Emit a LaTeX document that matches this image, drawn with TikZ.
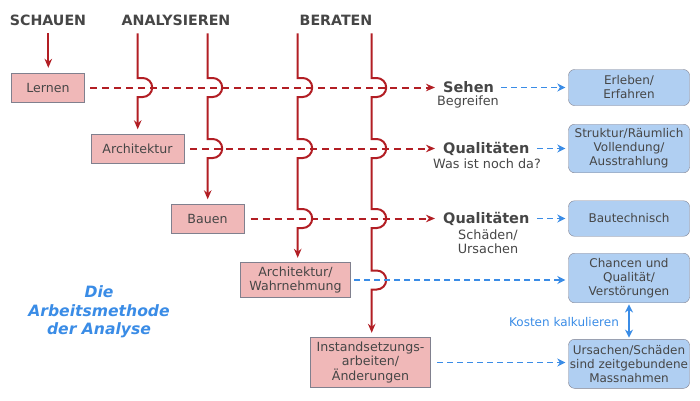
\documentclass[tikz,border=0pt]{standalone}
\usepackage{fontspec}
\setmainfont{DejaVu Sans}
\usepackage{xcolor}
\usepackage{tikz}
\usetikzlibrary{arrows.meta, positioning}

\definecolor{pfadrot}{RGB}{178,30,36}
\definecolor{hinweisblau}{RGB}{58,140,230}
\definecolor{rosa}{RGB}{240,184,184}
\definecolor{hellblau}{RGB}{176,207,242}
\definecolor{rahmen}{RGB}{128,128,142}
\definecolor{schrift}{RGB}{70,70,70}

\tikzset{
  kopf/.style={font=\fontsize{14.2}{16}\selectfont\bfseries, text=schrift},
  phasenbox/.style={draw=rahmen, fill=rosa, text=schrift, align=center, inner sep=1pt, font=\fontsize{12.6}{14.2}\selectfont},
  zielbox/.style={phasenbox, fill=hellblau, rounded corners=6pt, minimum width=121pt, font=\fontsize{12}{14}\selectfont},
  stichwort/.style={font=\fontsize{14.5}{16}\selectfont\bfseries, text=schrift, inner sep=1pt, anchor=west},
  notiz/.style={font=\fontsize{12.8}{14.5}\selectfont, text=schrift, inner sep=0pt, align=center},
  rotpfeil/.style={draw=pfadrot, line width=2pt, -{Stealth[length=9pt,width=7.5pt]}},
  rotstrich/.style={rotpfeil, dash pattern=on 7pt off 5pt},
  blaupfeil/.style={draw=hinweisblau, line width=1.7pt, {Stealth[length=8pt,width=8pt]}-{Stealth[length=8pt,width=8pt]}},
  blaustrich/.style={draw=hinweisblau, line width=1.7pt, dash pattern=on 6pt off 4pt, -{Stealth[length=8pt,width=8pt]}},
}

\begin{document}
\begin{tikzpicture}[x=1pt,y=-1pt]
\useasboundingbox (0,0) rectangle (700,400);

\node[kopf] (schauen) at (48,20) {SCHAUEN};
\node[kopf] (analysieren) at (176,20) {ANALYSIEREN};
\node[kopf] (beraten) at (336,20) {BERATEN};

\node[phasenbox, minimum width=73pt, minimum height=29pt] (lernen) at (48,87.5) {Lernen};
\node[phasenbox, minimum width=93pt, minimum height=29pt] (architektur) at (137.5,148.5) {Architektur};
\node[phasenbox, minimum width=73pt, minimum height=29pt] (bauen) at (207.5,218.5) {Bauen};
\node[phasenbox, minimum width=110pt, minimum height=35pt] (wahrnehmung) at (295.5,280) {Architektur/\\Wahrnehmung};
\node[phasenbox, minimum width=120pt, minimum height=50pt] (instandsetzung) at (370.5,362.5) {Instandsetzungs-\\arbeiten/\\Änderungen};

\node[stichwort] (sehen) at (442,87.5) {Sehen};
\node[notiz] (begreifen) at (468,102) {Begreifen};
\node[stichwort] (qualitaet) at (442,148.5) {Qualitäten};
\node[notiz] (nochda) at (487,163.5) {Was ist noch da?};
\node[stichwort] (qualitaetbau) at (442,218.5) {Qualitäten};
\node[notiz] (ursachen) at (488,241.5) {Schäden/\\Ursachen};

\node[zielbox, minimum height=36pt] (erleben) at (629,87.5) {Erleben/\\Erfahren};
\node[zielbox, minimum height=48.5pt] (struktur) at (629,148.5) {Struktur/Räumlich\\Vollendung/\\Ausstrahlung};
\node[zielbox, minimum height=35.5pt] (bautechnisch) at (629,218.5) {Bautechnisch};
\node[zielbox, minimum height=49.5pt] (chancen) at (629,278) {Chancen und\\Qualität/\\Verstörungen};
\node[zielbox, minimum height=49pt] (massnahmen) at (629,363.8) {Ursachen/Schäden\\sind zeitgebundene\\Massnahmen};

\node[text=hinweisblau, font=\fontsize{12}{14}\selectfont] (kosten) at (564,322) {Kosten kalkulieren};
\node[text=hinweisblau, font=\fontsize{15.6}{18.5}\selectfont\bfseries\itshape, align=center] (titel) at (99,312) {Die\\Arbeitsmethode\\der Analyse};

\coordinate (s0) at (48.3,33.3);
\draw[rotpfeil, shorten >=5pt] (s0) -- (s0 |- lernen.north);
\foreach \x/\reihen/\ziel in {137.7/{87.5}/architektur, 207.7/{87.5,148.5}/bauen,
    297.7/{87.5,148.5,218.5}/wahrnehmung, 371.7/{87.5,148.5,218.5,280}/instandsetzung}
  \draw[rotpfeil, shorten >=4.5pt] (\x,33.3)
    foreach \y in \reihen {-- (\x,\y-9.5) -- ++(5,0) arc[start angle=-90,end angle=90,radius=9.5] -- (\x,\y+9.5)}
    -- (\x,0 |- \ziel.north);

\draw[rotstrich, shorten <=5.5pt, shorten >=7pt] (lernen.east) -- (sehen.west);
\draw[rotstrich, shorten <=6pt, shorten >=7pt] (architektur.east) -- (qualitaet.west);
\draw[rotstrich, shorten <=6.5pt, shorten >=7pt] (bauen.east) -- (qualitaetbau.west);

\draw[blaustrich, shorten <=6pt, shorten >=3pt] (sehen.east) -- (erleben.west);
\draw[blaustrich, shorten <=6.5pt, shorten >=3pt] (qualitaet.east) -- (struktur.west);
\draw[blaustrich, shorten <=6.5pt, shorten >=3pt] (qualitaetbau.east) -- (bautechnisch.west);
\draw[blaustrich, shorten <=3.5pt, shorten >=3pt] (wahrnehmung.east) -- (wahrnehmung.east -| chancen.west);
\draw[blaustrich, shorten <=6.5pt, shorten >=3pt] (instandsetzung.east) -- (instandsetzung.east -| massnahmen.west);
\draw[blaupfeil, shorten <=1.5pt, shorten >=1.5pt] (chancen.south) -- (massnahmen.north);
\end{tikzpicture}
\end{document}
